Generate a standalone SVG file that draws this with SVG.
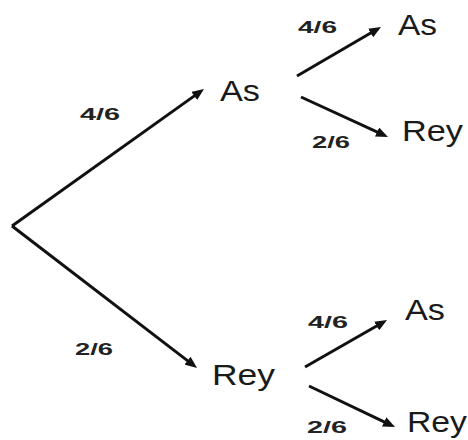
<svg xmlns="http://www.w3.org/2000/svg" width="468" height="440" viewBox="0 0 468 440">
<style>
.node{font-family:"Liberation Sans",Arial,sans-serif;font-size:29px;fill:#1a1a1a}
.lbl{font-family:"Liberation Sans",Arial,sans-serif;font-size:17px;font-weight:bold;fill:#222}
.edge{stroke:#111;stroke-width:3;fill:none;marker-end:url(#ah)}
</style>
<defs>
<marker id="ah" markerUnits="userSpaceOnUse" markerWidth="12" markerHeight="10" refX="4" refY="5" orient="auto">
<path d="M0,0 L12,5 L0,10 z" fill="#111"/>
</marker>
</defs>
<rect width="468" height="440" fill="#fff"/>
<g id="connectors">
<path class="edge" d="M12,226 L197.5,93.6"/>
<path class="edge" d="M12,226 L190.7,363.1"/>
<path class="edge" d="M297,76 L374.1,31"/>
<path class="edge" d="M301,97 L380.7,133.7"/>
<path class="edge" d="M305,367 L380.1,324"/>
<path class="edge" d="M309,386 L387.8,423.6"/>
</g>
<g id="labels">
<text class="lbl" x="80" y="120" textLength="40" lengthAdjust="spacingAndGlyphs">4/6</text>
<text class="lbl" x="75" y="355" textLength="38" lengthAdjust="spacingAndGlyphs">2/6</text>
<text class="lbl" x="298" y="33" textLength="39" lengthAdjust="spacingAndGlyphs">4/6</text>
<text class="lbl" x="312" y="148" textLength="38" lengthAdjust="spacingAndGlyphs">2/6</text>
<text class="lbl" x="308" y="328" textLength="40" lengthAdjust="spacingAndGlyphs">4/6</text>
<text class="lbl" x="307" y="433" textLength="40" lengthAdjust="spacingAndGlyphs">2/6</text>
</g>
<g id="n_as"><text class="node" x="220" y="101" textLength="40" lengthAdjust="spacingAndGlyphs">As</text></g>
<g id="n_rey"><text class="node" x="212" y="385" textLength="63" lengthAdjust="spacingAndGlyphs">Rey</text></g>
<g id="n_as_as"><text class="node" x="398" y="35" textLength="39" lengthAdjust="spacingAndGlyphs">As</text></g>
<g id="n_as_rey"><text class="node" x="402" y="141" textLength="61" lengthAdjust="spacingAndGlyphs">Rey</text></g>
<g id="n_rey_as"><text class="node" x="405" y="320" textLength="40" lengthAdjust="spacingAndGlyphs">As</text></g>
<g id="n_rey_rey"><text class="node" x="407" y="432" textLength="60" lengthAdjust="spacingAndGlyphs">Rey</text></g>
</svg>
